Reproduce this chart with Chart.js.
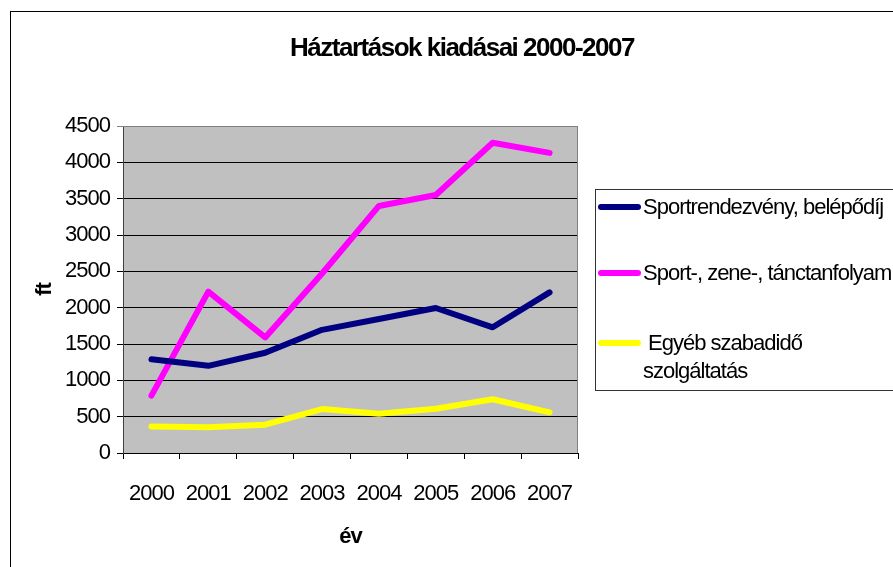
<!DOCTYPE html>
<html>
<head>
<meta charset="utf-8">
<script src="https://cdn.jsdelivr.net/npm/chart.js@4.4.0/dist/chart.umd.min.js"></script>
<style>
  html, body { margin: 0; padding: 0; background: #fff; }
  canvas { display: block; }
</style>
</head>
<body>
<canvas id="myChart" width="893" height="567"></canvas>
<script>
const years = ["2000", "2001", "2002", "2003", "2004", "2005", "2006", "2007"];
const sportEvents = [1290, 1200, 1380, 1695, 1845, 1995, 1730, 2210];
const courses = [790, 2220, 1590, 2470, 3400, 3550, 4270, 4130];
const otherLeisure = [365, 355, 390, 605, 540, 610, 740, 560];
const seriesNames = ["Sportrendezvény, belépődíj", "Sport-, zene-, tánctanfolyam", " Egyéb szabadidő\nszolgáltatás"];
const seriesColors = ["#000080", "#ff00ff", "#ffff00"];
const chartTitle = "Háztartások kiadásai 2000-2007";
const yTitle = "ft";
const xTitle = "év";

const FONT = "'Liberation Sans', Arial, sans-serif";

// tighter letters, like the old office chart
const spacing = {
  id: "spacing",
  beforeUpdate(chart) { chart.ctx.letterSpacing = "-1px"; },
  beforeDraw(chart) { chart.ctx.letterSpacing = "-1px"; }
};

const frame = {
  id: "frame",
  beforeDraw(chart) {
    const ctx = chart.ctx;
    const a = chart.chartArea;
    ctx.save();
    ctx.fillStyle = "#fff";
    ctx.fillRect(0, 0, chart.width, chart.height);
    ctx.strokeStyle = "#000";
    ctx.lineWidth = 1;
    ctx.strokeRect(10.5, 11.5, 1000, 1000);
    ctx.fillStyle = "#c0c0c0";
    ctx.fillRect(a.left, a.top, a.right - a.left, a.bottom - a.top);
    ctx.restore();
  },
  afterDraw(chart) {
    const ctx = chart.ctx;
    const a = chart.chartArea;
    ctx.save();
    // plot border top / right
    ctx.strokeStyle = "#808080";
    ctx.lineWidth = 1;
    ctx.beginPath();
    ctx.moveTo(a.left, a.top + 0.5);
    ctx.lineTo(a.right - 0.5, a.top + 0.5);
    ctx.lineTo(a.right - 0.5, a.bottom);
    ctx.stroke();

    // title
    ctx.fillStyle = "#000";
    ctx.letterSpacing = "-1.5px";
    ctx.font = "bold 26px " + FONT;
    ctx.textAlign = "center";
    ctx.textBaseline = "middle";
    ctx.fillText(chartTitle, 462, 49);

    // legend
    ctx.letterSpacing = "-1px";
    ctx.strokeStyle = "#333";
    ctx.strokeRect(595.5, 189.5, 400, 201);
    const rows = [208, 274, 344];
    ctx.font = "22px " + FONT;
    ctx.textAlign = "left";
    chart.data.datasets.forEach((ds, i) => {
      const y = rows[i];
      ctx.strokeStyle = ds.borderColor;
      ctx.lineWidth = 6;
      ctx.lineCap = "round";
      ctx.beginPath();
      ctx.moveTo(601, y - 1);
      ctx.lineTo(638, y - 1);
      ctx.stroke();
      ds.label.split("\n").forEach((line, j) => {
        ctx.fillText(line, 643, y + j * 28);
      });
    });
    ctx.restore();
  }
};

const config = {
  type: "line",
  data: {
    labels: years,
    datasets: seriesNames.map((name, i) => ({
      label: name,
      data: [sportEvents, courses, otherLeisure][i],
      borderColor: seriesColors[i],
      backgroundColor: seriesColors[i],
      borderWidth: 6,
      borderCapStyle: "round",
      borderJoinStyle: "round",
      pointRadius: 0,
      tension: 0
    }))
  },
  options: {
    responsive: false,
    animation: false,
    events: [],
    layout: { padding: { left: 20, right: 315, top: 126, bottom: 0 } },
    plugins: {
      legend: { display: false },
      title: { display: false },
      tooltip: { enabled: false }
    },
    scales: {
      x: {
        offset: true,
        grid: { offset: true, drawOnChartArea: false, drawTicks: true, tickLength: 6, color: "#000" },
        border: { color: "#000" },
        ticks: { color: "#000", font: { family: FONT, size: 22 }, padding: 22, maxRotation: 0 },
        title: { display: true, text: xTitle, color: "#000", font: { family: FONT, size: 22, weight: "bold" }, padding: { top: 0, bottom: 17 } },
        afterFit(s) { s.height = 114; }
      },
      y: {
        min: 0,
        max: 4500,
        ticks: { stepSize: 500, color: "#000", font: { family: FONT, size: 22 }, padding: 7, callback: (v) => String(v) },
        grid: {
          tickLength: 6,
          color: (c) => (c.tick && c.tick.value === 4500 ? "#808080" : "#000")
        },
        border: { color: "#404040" },
        title: { display: true, text: yTitle, color: "#000", font: { family: FONT, size: 22, weight: "bold" }, padding: { top: 12, bottom: 0 } },
        afterFit(s) { s.width = 103; }
      }
    }
  },
  plugins: [spacing, frame]
};

const myChart = new Chart(document.getElementById("myChart"), config);
</script>
</body>
</html>
